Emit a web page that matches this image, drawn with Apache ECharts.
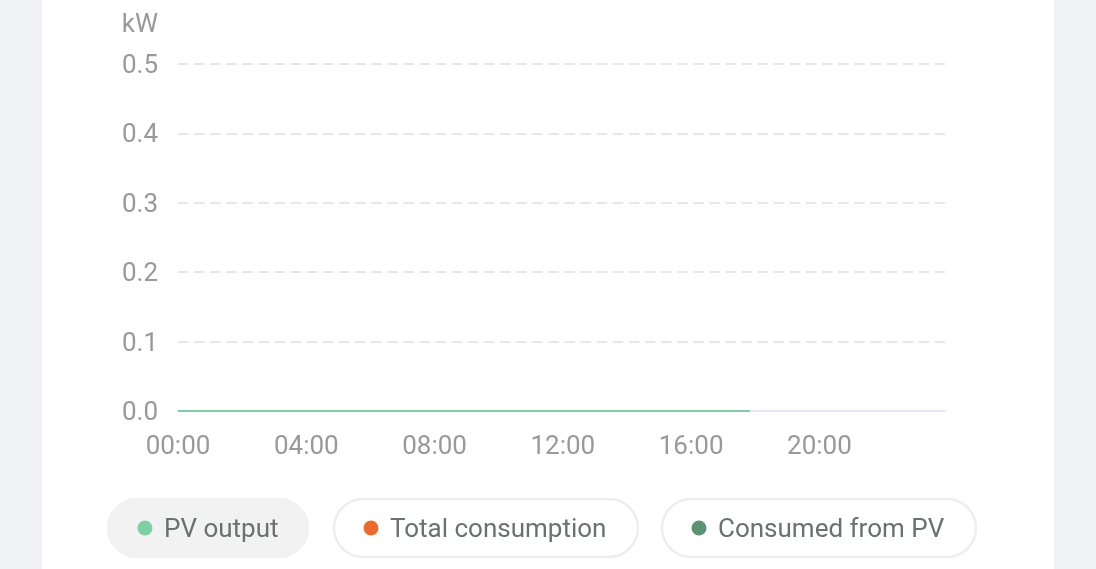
<!DOCTYPE html>
<html>
<head>
<meta charset="utf-8">
<script src="https://cdn.jsdelivr.net/npm/echarts@6/dist/echarts.min.js"></script>
<style>
html,body{margin:0;padding:0;width:1096px;height:569px;background:#f0f1f5;overflow:hidden;}
#card{position:absolute;left:42px;top:0;width:1012px;height:569px;background:#ffffff;}
#chart{position:absolute;left:0;top:0;width:1096px;height:569px;}
</style>
</head>
<body>
<div id="card"></div>
<div id="chart"></div>
<script>
// Y axis ticks (kW)
const yTicks = [0, 0.1, 0.2, 0.3, 0.4, 0.5];
// X axis: minutes of the day, labelled every 4 hours
const xTickLabels = ['00:00', '04:00', '08:00', '12:00', '16:00', '20:00'];
const dayEndMinute = 1435; // last 5-minute slot, 23:55
// Series (x = minute of day, y = kW)
const pvOutput = [[0, 0], [1070, 0]];        // flat zero until 17:50
const totalConsumption = [];
const consumedFromPV = [];
const seriesNames = ['PV output', 'Total consumption', 'Consumed from PV'];
const seriesColors = ['#80cfa4', '#ec6a2e', '#5e9073'];

const font = 'Roboto, "Noto Sans", sans-serif';
const chart = echarts.init(document.getElementById('chart'), null, {renderer: 'canvas'});

// legend pills
const pills = [
  {x: 108, w: 200, fill: '#f2f2f2', stroke: '#f2f2f2'},
  {x: 334, w: 304, fill: '#ffffff', stroke: '#eeeeee'},
  {x: 662, w: 314, fill: '#ffffff', stroke: '#eeeeee'}
];
const graphics = [];
pills.forEach((p, i) => {
  graphics.push({
    type: 'rect', shape: {x: p.x, y: 499, width: p.w, height: 58, r: 29},
    style: {fill: p.fill, stroke: p.stroke, lineWidth: 2.5}, z: 1
  });
  graphics.push({
    type: 'circle', shape: {cx: p.x + 37, cy: 528, r: 7.5},
    style: {fill: seriesColors[i]}, z: 2
  });
  graphics.push({
    type: 'text', x: p.x + 56, y: 530,
    style: {text: seriesNames[i], fill: '#6b716d', font: '26px ' + font, textVerticalAlign: 'middle', textAlign: 'left'},
    z: 2
  });
});

chart.setOption({
  animation: false,
  backgroundColor: 'transparent',
  grid: {left: 178, right: 151, top: 64, bottom: 158, containLabel: false},
  xAxis: {
    type: 'value',
    min: 0, max: dayEndMinute, interval: 240,
    axisLine: {show: true, lineStyle: {color: '#e6e8f3', width: 2}},
    axisTick: {show: false},
    splitLine: {show: false},
    axisLabel: {
      color: '#999999', fontSize: 26, fontFamily: font, margin: 23,
      showMaxLabel: false,
      formatter: v => xTickLabels[Math.round(v / 240)] || ''
    }
  },
  yAxis: {
    type: 'value',
    min: yTicks[0], max: yTicks[yTicks.length - 1], interval: 0.1,
    name: 'kW',
    nameLocation: 'end',
    nameGap: 26,
    nameTextStyle: {color: '#999999', fontSize: 26, fontFamily: font, align: 'right', padding: [0, 20, 0, 0]},
    axisLine: {show: false},
    axisTick: {show: false},
    axisLabel: {
      margin: 20,
      formatter: v => '{t|' + v.toFixed(1) + '}',
      rich: {t: {color: '#999999', fontSize: 26, fontFamily: font, padding: [5, 0, 0, 0]}}
    },
    splitLine: {show: true, lineStyle: {color: '#e4e6f1', width: 2, type: [10.5, 5.6]}}
  },
  series: [
    {name: seriesNames[0], type: 'line', data: pvOutput, showSymbol: false, lineStyle: {color: seriesColors[0], width: 2}, itemStyle: {color: seriesColors[0]}, z: 5},
    {name: seriesNames[1], type: 'line', data: totalConsumption, showSymbol: false, lineStyle: {color: seriesColors[1], width: 2}},
    {name: seriesNames[2], type: 'line', data: consumedFromPV, showSymbol: false, lineStyle: {color: seriesColors[2], width: 2}}
  ],
  graphic: graphics
});
</script>
</body>
</html>
